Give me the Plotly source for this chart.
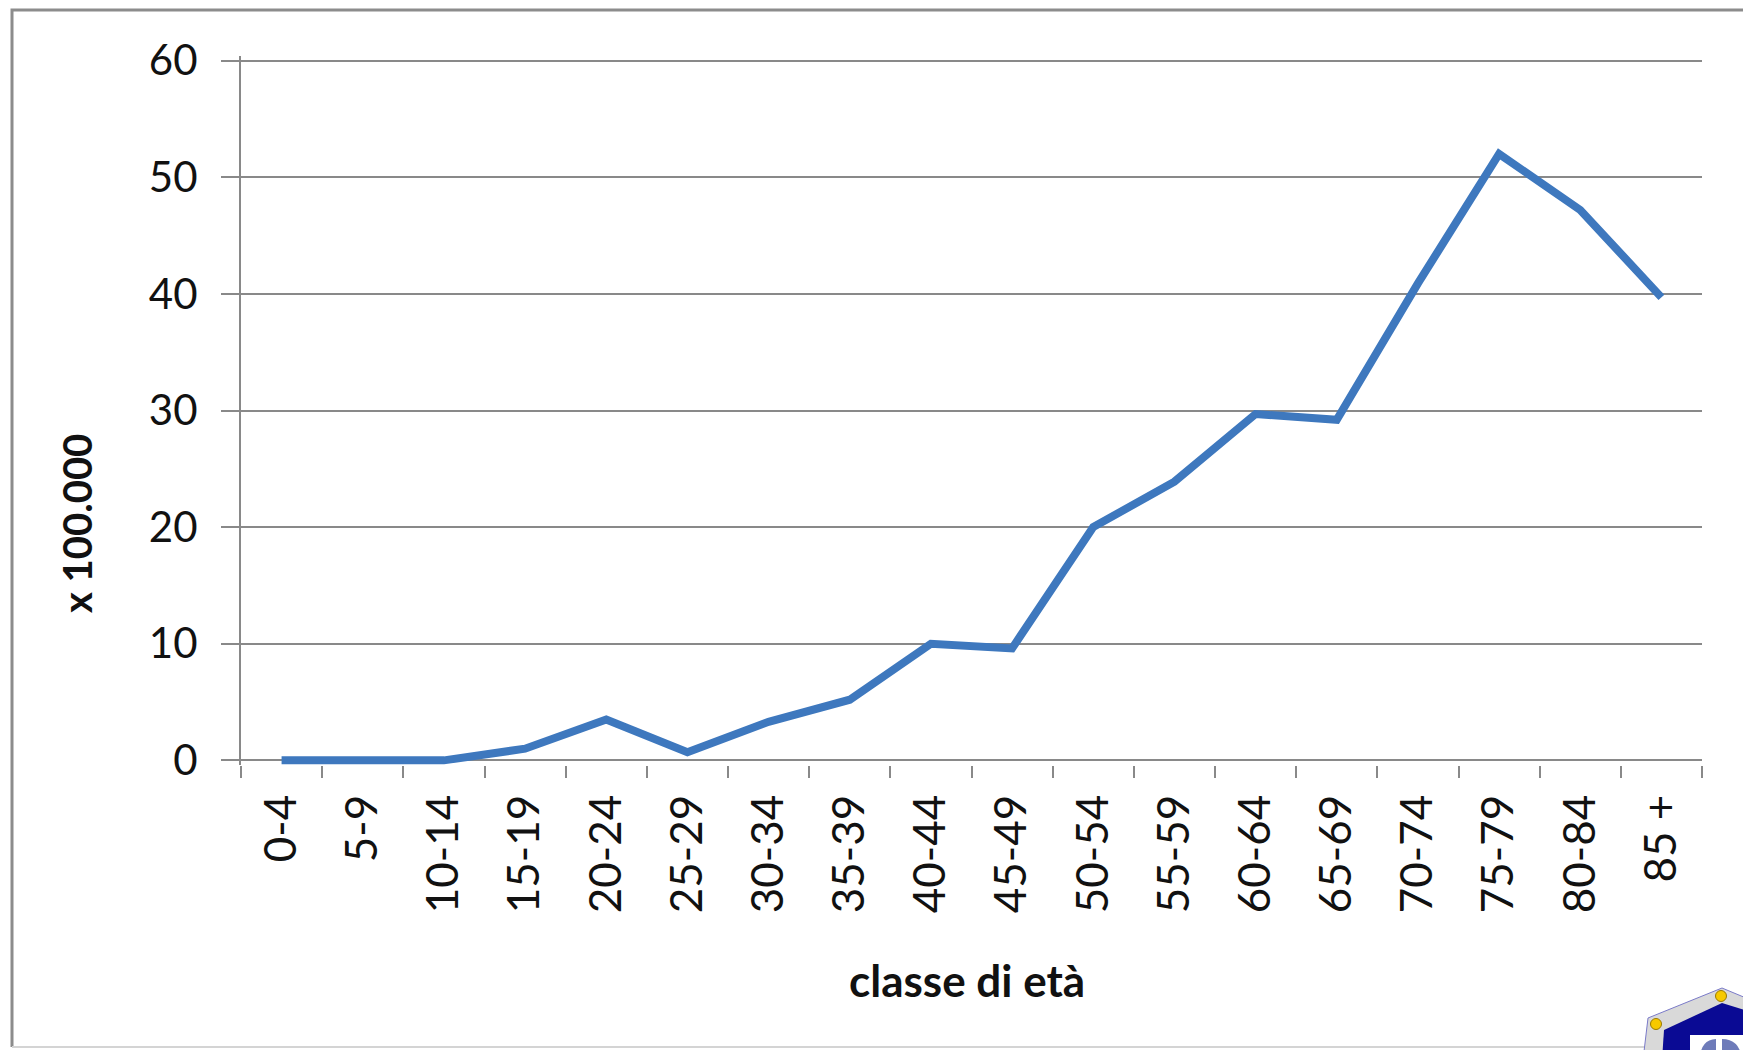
import plotly.graph_objects as go

W, H = 1751, 1050

age_classes = ["0-4", "5-9", "10-14", "15-19", "20-24", "25-29", "30-34", "35-39",
               "40-44", "45-49", "50-54", "55-59", "60-64", "65-69", "70-74",
               "75-79", "80-84", "85 +"]
rates = [0.0, 0.0, 0.0, 1.0, 3.5, 0.7, 3.3, 5.2, 10.0, 9.6, 20.0, 23.9,
         29.7, 29.2, 40.9, 52.0, 47.2, 39.7]
y_ticks = [0, 10, 20, 30, 40, 50, 60]

GRID = "#898989"
BLUE = "#3E78BE"
FONT = "Lato"
INK = "#111111"

# page body adds an 8px margin around the figure
OFF = 8
# plot area, page pixels
PL, PR, PT, PB = 241, 1702, 56, 765
L, T = PL - OFF, PT - OFF
R, B = W - (PR - OFF), H - (PB - OFF)
PW, PH = PR - PL, PB - PT


def px(x):
    return (x - PL) / PW


def py(y):
    return (PB - y) / PH


fig = go.Figure()
fig.add_scatter(x=age_classes, y=rates, mode="lines",
                line=dict(color=BLUE, width=8), hoverinfo="x+y")

shapes = [
    # outer frame of the chart
    dict(type="path", xref="paper", yref="paper",
         path=f"M {px(1770)},{py(10)} L {px(12)},{py(10)} L {px(12)},{py(1047)}",
         line=dict(color="#8C8C8C", width=3)),
    dict(type="line", xref="paper", yref="paper",
         x0=px(12), x1=px(1770), y0=py(1047), y1=py(1047),
         line=dict(color="#D4D4D4", width=2)),
    # logo, bottom-right corner (partially cut)
    dict(type="path", xref="paper", yref="paper",
         path=f"M {px(1643)},{py(1060)} L {px(1648)},{py(1018)} L {px(1722)},{py(988)} "
              f"L {px(1770)},{py(1008)} L {px(1770)},{py(1060)} Z",
         fillcolor="#D9D9D9", line=dict(color="#7A7AC8", width=1)),
    dict(type="path", xref="paper", yref="paper",
         path=f"M {px(1662)},{py(1060)} L {px(1664)},{py(1030)} L {px(1722)},{py(1003)} "
              f"L {px(1770)},{py(1018)} L {px(1770)},{py(1060)} Z",
         fillcolor="#0A0A94", line=dict(width=0)),
    dict(type="rect", xref="paper", yref="paper",
         x0=px(1690), x1=px(1770), y0=py(1035), y1=py(1060),
         fillcolor="white", line=dict(width=0)),
    dict(type="path", xref="paper", yref="paper",
         path=f"M {px(1700)},{py(1060)} Q {px(1700)},{py(1040)} {px(1716)},{py(1039)} "
              f"L {px(1716)},{py(1060)} Z",
         fillcolor="#4A5AA8", line=dict(width=0), opacity=0.8),
    dict(type="path", xref="paper", yref="paper",
         path=f"M {px(1722)},{py(1060)} L {px(1722)},{py(1039)} Q {px(1740)},{py(1039)} "
              f"{px(1742)},{py(1060)} Z",
         fillcolor="#4A5AA8", line=dict(width=0), opacity=0.8),
]
for cx, cy in [(1656, 1024), (1721, 996)]:
    shapes.append(dict(type="circle", xref="paper", yref="paper",
                       x0=px(cx - 5.5), x1=px(cx + 5.5), y0=py(cy + 5.5), y1=py(cy - 5.5),
                       fillcolor="#F7C900", line=dict(color="#9A7A00", width=1)))

fig.update_layout(
    width=W, height=H,
    margin=dict(l=L, r=R, t=T, b=B),
    paper_bgcolor="white", plot_bgcolor="white",
    showlegend=False,
    font=dict(family=FONT, color=INK),
    shapes=shapes,
    xaxis=dict(
        type="category", range=[-0.5, 17.5],
        showgrid=False, showline=False, zeroline=False,
        ticks="outside", tickson="boundaries", ticklen=12, tickwidth=2, tickcolor=GRID,
        tickangle=-90, tickfont=dict(size=44, family=FONT, color=INK),
        ticklabelstandoff=20,
    ),
    yaxis=dict(
        range=[-0.4, 60.4], tickvals=y_ticks,
        showgrid=True, gridcolor=GRID, gridwidth=2,
        zeroline=True, zerolinecolor=GRID, zerolinewidth=2,
        showline=True, linecolor=GRID, linewidth=2,
        ticks="outside", ticklen=18, tickwidth=2, tickcolor=GRID,
        tickfont=dict(size=42, family=FONT, color=INK),
        ticklabelstandoff=15,
    ),
    annotations=[
        dict(text="<b>classe di età</b>", xref="paper", yref="paper",
             x=px(967), y=py(980), xanchor="center", yanchor="middle", showarrow=False,
             font=dict(size=44, family=FONT, color=INK)),
        dict(text="<b>x 100.000</b>", xref="paper", yref="paper",
             x=px(77), y=py(524), xanchor="center", yanchor="middle", showarrow=False,
             textangle=-90, font=dict(size=40, family=FONT, color=INK)),
    ],
)

fig.write_html("out.html")
